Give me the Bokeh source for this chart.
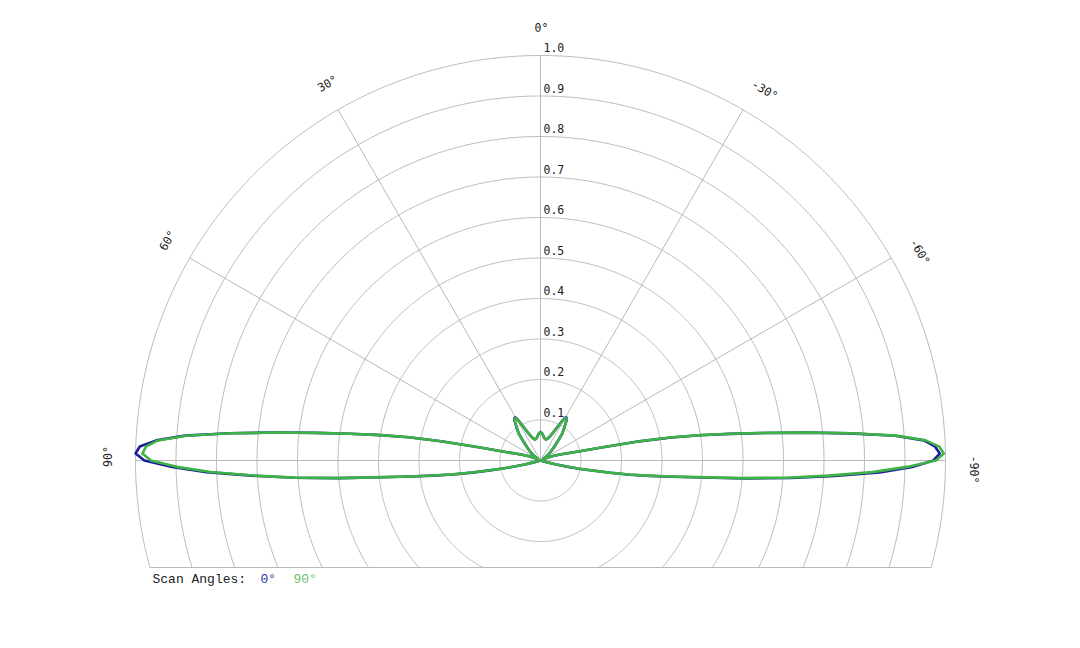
import numpy as np
from bokeh.plotting import figure
from bokeh.models import Range1d
from bokeh.core.properties import value
from bokeh.embed import file_html
from bokeh.resources import INLINE

# ---------------- data ----------------
# angle in degrees: 0 at top, positive toward the left
theta_deg = [-106, -105, -104, -103, -102, -101, -100, -99, -98, -97, -96, -95, -94, -93,
             -92, -91, -90, -89, -88, -87, -86, -85, -84, -83, -82, -81, -80, -79, -78,
             -76, -73, -70, -65, -60, -55, -50, -45, -42, -39, -36, -33, -31, -30, -29,
             -27, -24, -21, -18, -15, -12, -9, -6, -3, 0, 3, 6, 9, 12, 15, 18, 21, 24, 27,
             29, 30, 31, 33, 36, 39, 42, 45, 50, 55, 60, 65, 70, 73, 76, 78, 79, 80, 81,
             82, 83, 84, 85, 86, 87, 88, 89, 90, 91, 92, 93, 94, 95, 96, 97, 98, 99, 100,
             101, 102, 103, 104, 105, 106]

r_scan0 = [0.0, 0.018, 0.040, 0.067, 0.097, 0.130, 0.175, 0.224, 0.272, 0.330, 0.402, 0.508,
           0.620, 0.727, 0.838, 0.918, 0.970, 0.986, 0.975, 0.948, 0.878, 0.768, 0.658,
           0.558, 0.473, 0.398, 0.328, 0.248, 0.158, 0.085, 0.050, 0.030, 0.012, 0.008,
           0.018, 0.032, 0.048, 0.063, 0.085, 0.100, 0.118, 0.124, 0.122, 0.114, 0.095,
           0.074, 0.063, 0.057, 0.054, 0.054, 0.057, 0.062, 0.068, 0.070, 0.068, 0.062,
           0.057, 0.054, 0.054, 0.057, 0.063, 0.074, 0.095, 0.114, 0.122, 0.124, 0.118,
           0.100, 0.085, 0.063, 0.048, 0.032, 0.018, 0.008, 0.012, 0.030, 0.050, 0.085,
           0.160, 0.250, 0.330, 0.400, 0.475, 0.560, 0.660, 0.770, 0.880, 0.950, 0.990,
           1.000, 0.978, 0.910, 0.825, 0.715, 0.610, 0.500, 0.395, 0.325, 0.268, 0.220,
           0.172, 0.128, 0.095, 0.066, 0.040, 0.018, 0.0]

r_scan90 = [0.0, 0.018, 0.040, 0.066, 0.095, 0.128, 0.172, 0.220, 0.268, 0.325, 0.392, 0.498,
            0.608, 0.712, 0.820, 0.905, 0.976, 0.996, 0.985, 0.952, 0.880, 0.770, 0.660,
            0.560, 0.475, 0.400, 0.330, 0.250, 0.160, 0.085, 0.050, 0.030, 0.012, 0.008,
            0.018, 0.032, 0.048, 0.063, 0.085, 0.100, 0.117, 0.122, 0.120, 0.112, 0.094,
            0.074, 0.063, 0.057, 0.054, 0.054, 0.057, 0.062, 0.068, 0.070, 0.068, 0.062,
            0.057, 0.054, 0.054, 0.057, 0.063, 0.074, 0.094, 0.112, 0.120, 0.122, 0.117,
            0.100, 0.085, 0.063, 0.048, 0.032, 0.018, 0.008, 0.012, 0.030, 0.050, 0.085,
            0.160, 0.250, 0.330, 0.400, 0.475, 0.560, 0.660, 0.770, 0.878, 0.946, 0.975,
            0.983, 0.962, 0.898, 0.815, 0.710, 0.607, 0.498, 0.393, 0.323, 0.266, 0.219,
            0.171, 0.127, 0.094, 0.065, 0.040, 0.018, 0.0]

ring_values = [0.1, 0.2, 0.3, 0.4, 0.5, 0.6, 0.7, 0.8, 0.9, 1.0]
ring_labels = ["0.1", "0.2", "0.3", "0.4", "0.5", "0.6", "0.7", "0.8", "0.9", "1.0"]
spoke_angles = [90, 60, 30, 0, -30, -60, -90]
spoke_labels = ["90°", "60°", "30°", "0°", "-30°", "-60°", "-90°"]
series_names = ["0°", "90°"]
series_colors = ["#1c1c9c", "#3db346"]
legend_title = "Scan Angles:"

# ---------------- layout ----------------
W, H = 1076, 640
CX, CY = 540, 460          # centre in figure pixels
PX = 405.0                 # pixels per unit radius
Y_BOTTOM = -107 / PX       # lower clip of the polar grid

p = figure(width=W, height=H, output_backend="svg", toolbar_location=None,
           x_range=Range1d(-CX / PX, (W - CX) / PX),
           y_range=Range1d(-(H - CY) / PX, CY / PX),
           min_border=0, outline_line_color=None)
p.axis.visible = False
p.grid.visible = False
p.background_fill_color = "white"

grid_color = "#b9b9b9"

# rings (clipped at bottom line)
xs, ys = [], []
for r in ring_values:
    if r <= -Y_BOTTOM:
        a = np.linspace(0, 2 * np.pi, 721)
    else:
        amin = np.arcsin(Y_BOTTOM / r)       # negative
        a = np.linspace(amin, np.pi - amin, 721)
    xs.append(list(r * np.cos(a))); ys.append(list(r * np.sin(a)))
p.multi_line(xs, ys, line_color=grid_color, line_width=1)

# bottom line
xb = np.sqrt(1 - Y_BOTTOM ** 2)
p.line([-xb, xb], [Y_BOTTOM, Y_BOTTOM], line_color=grid_color, line_width=1)

# spokes
sx, sy = [], []
for a in spoke_angles:
    t = np.radians(a)
    sx.append([0, -np.sin(t)]); sy.append([0, np.cos(t)])
p.multi_line(sx, sy, line_color=grid_color, line_width=1)

# radial labels
p.text(x=[3 / PX] * len(ring_values), y=[r + 8 / PX for r in ring_values], text=ring_labels,
       text_font=value("DejaVu Sans Mono"), text_font_size="11.5px", text_color="#222222",
       text_align="left", text_baseline="alphabetic")

# angle labels (tangential), shifted slightly along the text direction
LR = 433 / PX
lx, lyy = [], []
for a, lab in zip(spoke_angles, spoke_labels):
    t = np.radians(a)
    shift = (9.0 if lab.startswith("-") else (1.0 if a == 0 else 4.0)) / PX
    # text direction in data coords for rotation angle t: (cos t, sin t)
    lx.append(-LR * np.sin(t) + shift * np.cos(t))
    lyy.append(LR * np.cos(t) + shift * np.sin(t))
p.text(x=lx, y=lyy, text=spoke_labels, angle=list(np.radians(spoke_angles)),
       text_font=value("DejaVu Sans Mono"), text_font_size="11.5px", text_color="#222222",
       text_align="center", text_baseline="middle")

# series
th = np.radians(theta_deg)
for rvals, col in zip([r_scan0, r_scan90], series_colors):
    rr = np.array(rvals)
    p.line(list(-rr * np.sin(th)), list(rr * np.cos(th)), line_color=col, line_width=2.6,
           line_join="round")

# legend text
ly = (CY - 579) / PX
p.text(x=[(152 - CX) / PX], y=[ly], text=[legend_title], text_font=value("Liberation Mono"),
       text_font_size="13px", text_color="#222222", text_align="left",
       text_baseline="alphabetic")
p.text(x=[(260 - CX) / PX, (293 - CX) / PX], y=[ly, ly], text=series_names,
       text_font=value("Liberation Mono"), text_font_size="13px",
       text_color=["#2a2a9a", "#6cc06c"], text_align="left", text_baseline="alphabetic")

open("out.html", "w").write(file_html(p, INLINE))
